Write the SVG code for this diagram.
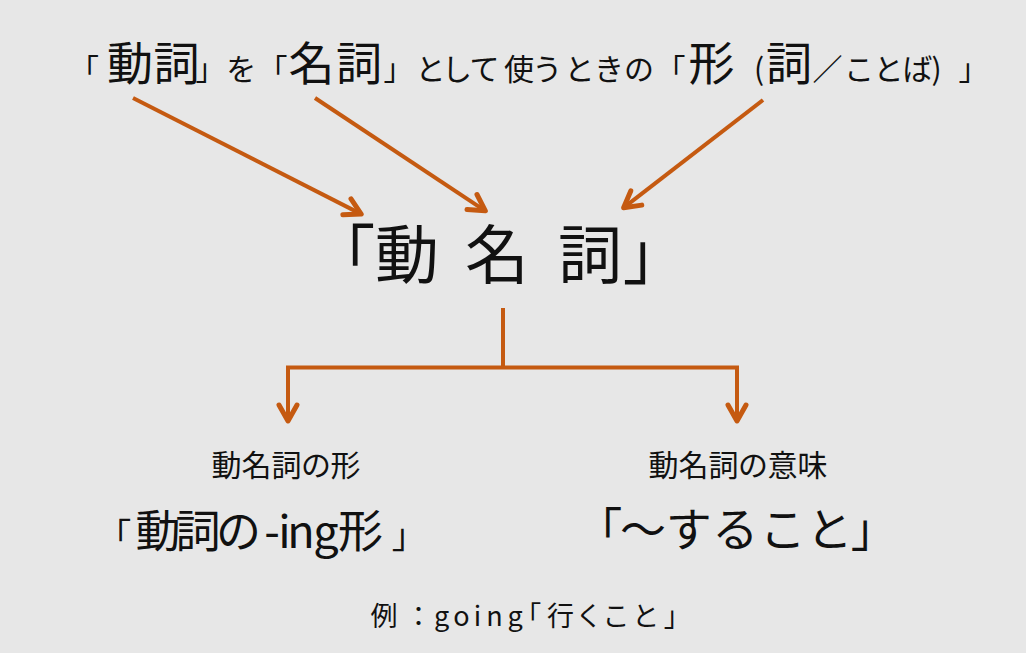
<svg xmlns="http://www.w3.org/2000/svg" width="1026" height="653" viewBox="0 0 1026 653">
<style>
text{font-family:"Noto Sans CJK JP","Noto Sans",sans-serif;fill:#111;font-feature-settings:"palt";text-anchor:middle}
.s{font-size:30px}
.b{font-size:46px}
.arrow{fill:none;stroke:#c55a11;stroke-width:4;stroke-linecap:butt;stroke-linejoin:miter}
</style>
<defs>
<marker id="ah" markerUnits="userSpaceOnUse" markerWidth="40" markerHeight="40" viewBox="-25 -20 40 40" refX="-1" refY="0" orient="auto" overflow="visible">
<path d="M-16,-9 L0,0 L-16,9" fill="none" stroke="#c55a11" stroke-width="5" stroke-linecap="round" stroke-linejoin="round"/>
</marker>
</defs>
<rect width="1026" height="653" fill="#e7e7e7"/>
<g id="title">
<text y="80"><tspan class="s" x="91">「</tspan><tspan class="b" x="130 176.5">動詞</tspan><tspan class="s" x="203.5 240.5 279.5">」を「</tspan><tspan class="b" x="311.5 359">名詞</tspan><tspan class="s" x="391.5 429.5 457 484.5 519 547 578.5 608.5 639 677.5">」として使うときの「</tspan><tspan class="b" x="711.5">形</tspan><tspan class="s" x="759">(</tspan><tspan class="b" x="789">詞</tspan><tspan class="s" x="827.5 859 887.5 916.5 936.5 966.5">／ことば)」</tspan></text>
</g>
<g id="gerund">
<text y="278" style="font-size:64px" x="358 407 497 590 640">「動名詞」</text>
</g>
<g id="form-label">
<text class="s" x="286" y="476">動名詞の形</text>
</g>
<g id="meaning-label">
<text class="s" x="738" y="476">動名詞の意味</text>
</g>
<g id="form">
<text y="548" style="font-size:45px"><tspan style="font-size:34px" x="122">「</tspan><tspan x="158 198 238.5 272 284.5 301 326 360.5">動詞の-ing形</tspan><tspan style="font-size:34px" x="401">」</tspan></text>
</g>
<g id="meaning">
<text y="546" style="font-size:46px" x="610 643 689 735 783 828 863">「〜すること」</text>
</g>
<g id="example">
<text y="626" style="font-size:27px" x="384 418.5 441.5 461.5 477.5 494.5 515 534 560.5 588.5 616 645 671">例：going「行くこと」</text>
</g>
<g id="connectors">
<path class="arrow" d="M133,98 L360.3,213.6" marker-end="url(#ah)"/>
<path class="arrow" d="M315,98 L484.5,210.3" marker-end="url(#ah)"/>
<path class="arrow" d="M763,100 L624.4,207.2" marker-end="url(#ah)"/>
<path class="arrow" d="M503,308 V369"/>
<path class="arrow" d="M503,367.5 H288 V420" marker-end="url(#ah)"/>
<path class="arrow" d="M503,367.5 H737 V420" marker-end="url(#ah)"/>
</g>
</svg>
